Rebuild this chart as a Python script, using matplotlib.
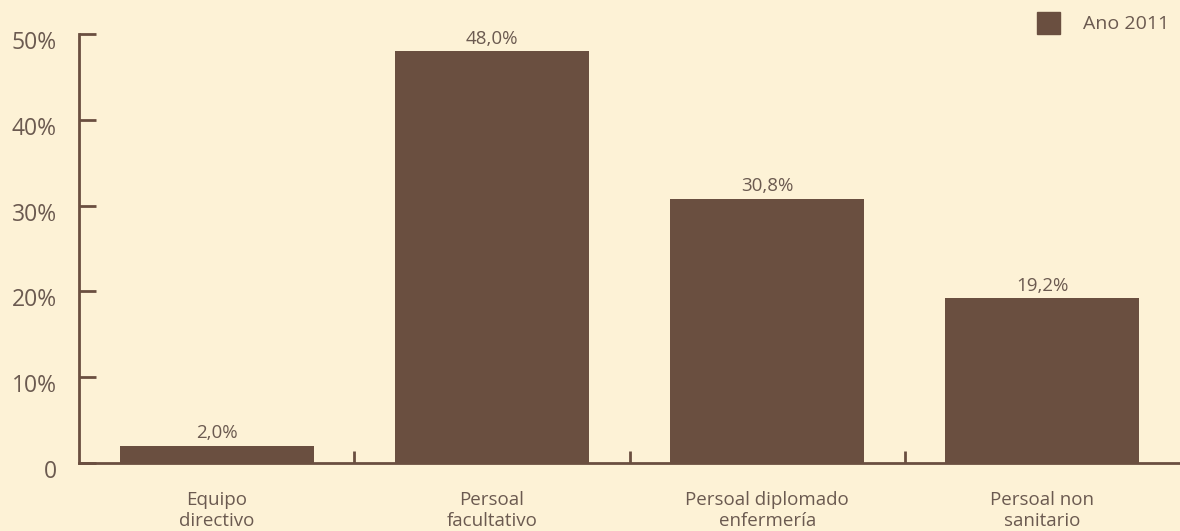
import numpy as np
import matplotlib.pyplot as plt
from matplotlib.patches import Rectangle
from matplotlib.transforms import ScaledTranslation

plt.rcParams['font.family'] = ['Open Sans', 'DejaVu Sans']

# datos
categorias = ['Equipo\ndirectivo', 'Persoal\nfacultativo',
              'Persoal diplomado\nenfermería', 'Persoal non\nsanitario']
valores = [2.0, 48.0, 30.8, 19.2]
etiquetas = ['2,0%', '48,0%', '30,8%', '19,2%']
yticks = [0, 10, 20, 30, 40, 50]
yticklabels = ['0', '10%', '20%', '30%', '40%', '50%']
serie = 'Ano 2011'

fondo = '#fdf2d6'
marron = '#6a4f40'
texto = '#6b5a50'

W, H = 1180, 531
fig = plt.figure(figsize=(W / 100, H / 100), dpi=100, facecolor=fondo)
ax = fig.add_axes([79 / W, 68 / H, 1101 / W, 429 / H], facecolor=fondo)

x = np.arange(len(valores))
ax.bar(x, valores, width=0.705, color=marron, label=serie, zorder=2)

for xi, v, et in zip(x, valores, etiquetas):
    ax.text(xi, v + 0.4, et, ha='center', va='bottom', fontsize=13.5, color=texto)

ax.set_xlim(-0.5, 3.5)
ax.set_ylim(0, 50)

# eixos
for s in ['top', 'right']:
    ax.spines[s].set_visible(False)
for s in ['left', 'bottom']:
    ax.spines[s].set_color(marron)
    ax.spines[s].set_linewidth(2)

ax.set_yticks(yticks)
ax.set_yticklabels(yticklabels, fontsize=16.5, color=texto)
ax.tick_params(axis='y', direction='in', length=12, width=2, color=marron, pad=16)
for lab in ax.get_yticklabels():
    lab.set_transform(lab.get_transform() + ScaledTranslation(0, -6 / 100, fig.dpi_scale_trans))

# marcas entre categorias
ax.set_xticks(x[:-1] + 0.5)
ax.set_xticklabels([])
ax.tick_params(axis='x', direction='in', length=9, width=2, color=marron)
for xi, cat in zip(x, categorias):
    ax.text(xi, -3.3, cat, ha='center', va='top', fontsize=13.5, color=texto,
            linespacing=1.2)

# lenda
fig.patches.append(Rectangle((1037 / W, 1 - 34 / H), 23 / W, 22 / H,
                             transform=fig.transFigure, color=marron))
fig.text(1083 / W, 1 - 24 / H, serie, fontsize=14, color=texto, ha='left', va='center')

fig.savefig('out.png', dpi=100, facecolor=fondo)
